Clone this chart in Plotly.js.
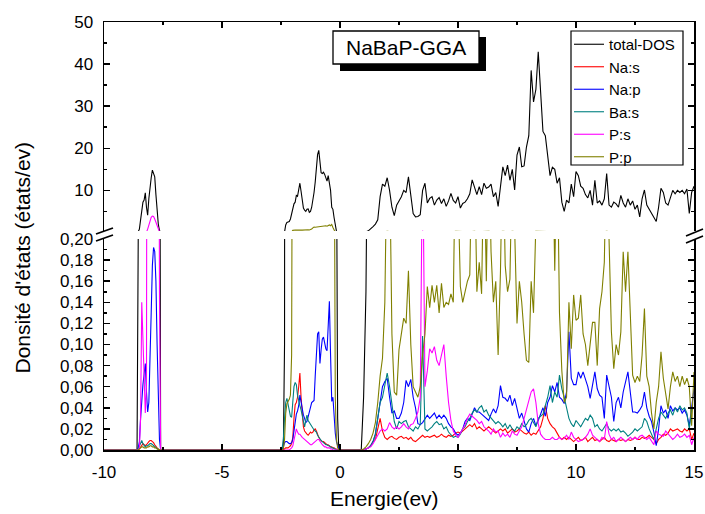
<!DOCTYPE html>
<html><head><meta charset="utf-8">
<script src="https://cdn.plot.ly/plotly-3.0.1.min.js"></script>
<style>html,body{margin:0;padding:0;background:#fff}#chart{width:705px;height:514px}</style>
</head><body><div id="chart"></div>
<script>
// ---------- energy grids (eV) ----------
function energyGrid(start, step, count) {
  const a = [];
  for (let i = 0; i < count; i++) a.push(Math.round((start + i * step) * 1000) / 1000);
  return a;
}
const energyStart = [-10];
const energyBand1 = energyGrid(-8.6, 0.05, 21);   // -8.60 .. -7.60
const energyBand2 = energyGrid(-2.5, 0.05, 52);   // -2.50 .. 0.05
const energyBand3 = energyGrid(0.8, 0.1, 143);    // 0.8 .. 15.0

const seriesNames = ['total-DOS', 'Na:s', 'Na:p', 'Ba:s', 'P:s', 'P:p'];

// ---------- band 1 (-8.6 .. -7.6) ----------
const totalDos1 = [0, 0.2, 0.8, 3.0, 5.3, 7.2, 7.7, 9.4, 6.0, 4.1, 8.0, 10.9, 13.0, 14.8, 14.2, 13.2, 9.0, 5.3, 2.0, 0.5, 0];
const naS1 = [0, 0, 0.001, 0.003, 0.005, 0.006, 0.005, 0.004, 0.005, 0.007, 0.008, 0.009, 0.009, 0.008, 0.007, 0.005, 0.003, 0.002, 0.001, 0, 0];
const naP1 = [0, 0.002, 0.008, 0.03, 0.05, 0.062, 0.072, 0.082, 0.055, 0.036, 0.045, 0.08, 0.13, 0.175, 0.192, 0.188, 0.16, 0.1, 0.04, 0.01, 0];
const baS1 = [0, 0.001, 0.004, 0.008, 0.009, 0.006, 0.004, 0.003, 0.004, 0.004, 0.005, 0.006, 0.006, 0.005, 0.004, 0.003, 0.002, 0.001, 0.0005, 0, 0];
const pS1 = [0, 0, 0.002, 0.03, 0.14, 0.1, 0.06, 0.035, 0.06, 0.8, 1.8, 2.8, 3.6, 3.9, 3.8, 3.2, 2.3, 1.4, 0.6, 0.15, 0];
const pP1 = [0, 0, 0.001, 0.002, 0.003, 0.003, 0.002, 0.002, 0.002, 0.003, 0.003, 0.004, 0.004, 0.003, 0.003, 0.002, 0.002, 0.001, 0.0005, 0, 0];

// ---------- band 2 (-2.5 .. 0.05) ----------
const totalDos2 = [0, 0, 0, 0.1, 1.8, 2.4, 2.5, 2.6, 3.2, 4.5, 6.0, 6.8, 7.2, 8.8, 8.6, 10.0, 11.7, 9.8, 7.0, 5.8,
  5.3, 5.0, 5.5, 5.6, 4.8, 5.0, 6.0, 7.5, 9.5, 12.0, 16.0, 18.5, 19.5, 16.0, 14.2, 14.0, 14.3, 13.8, 13.0, 12.2,
  13.5, 12.0, 10.0, 6.0, 5.5, 3.5, 1.2, 0.3, 0.03, 0, 0, 0];
const naS2 = [0, 0, 0, 0.001, 0.002, 0.002, 0.002, 0.003, 0.004, 0.006, 0.012, 0.03, 0.043, 0.045, 0.05, 0.06, 0.073, 0.05, 0.03, 0.022,
  0.018, 0.016, 0.015, 0.014, 0.016, 0.017, 0.016, 0.017, 0.019, 0.02, 0.018, 0.014, 0.012, 0.01, 0.009, 0.008, 0.008, 0.007, 0.006, 0.005,
  0.005, 0.004, 0.003, 0.003, 0.002, 0.002, 0.001, 0.001, 0, 0, 0, 0];
const naP2 = [0, 0.001, 0.003, 0.007, 0.008, 0.008, 0.007, 0.006, 0.006, 0.007, 0.01, 0.02, 0.028, 0.034, 0.037, 0.042, 0.052, 0.045, 0.036, 0.033,
  0.03, 0.026, 0.027, 0.032, 0.038, 0.042, 0.045, 0.046, 0.047, 0.07, 0.098, 0.11, 0.112, 0.082, 0.095, 0.105, 0.107, 0.1, 0.096, 0.094,
  0.115, 0.141, 0.09, 0.046, 0.05, 0.03, 0.016, 0.008, 0.003, 0.001, 0, 0];
const baS2 = [0, 0.002, 0.01, 0.03, 0.045, 0.049, 0.042, 0.037, 0.032, 0.031, 0.045, 0.06, 0.064, 0.062, 0.052, 0.046, 0.042, 0.038, 0.033, 0.025,
  0.022, 0.028, 0.033, 0.028, 0.026, 0.024, 0.022, 0.02, 0.019, 0.018, 0.017, 0.014, 0.012, 0.01, 0.009, 0.008, 0.007, 0.006, 0.005, 0.005,
  0.004, 0.004, 0.003, 0.002, 0.002, 0.001, 0.001, 0, 0, 0, 0, 0];
const pS2 = [0, 0, 0, 0, 0, 0, 0, 0, 0.001, 0.002, 0.004, 0.01, 0.017, 0.02, 0.017, 0.015, 0.015, 0.013, 0.012, 0.011,
  0.01, 0.009, 0.008, 0.007, 0.006, 0.005, 0.005, 0.006, 0.007, 0.008, 0.009, 0.01, 0.01, 0.008, 0.006, 0.005, 0.004, 0.003, 0.003, 0.002,
  0.002, 0.002, 0.001, 0.001, 0, 0, 0, 0, 0, 0, 0, 0];
const pP2 = [0, 0, 0.001, 0.01, 0.035, 0.044, 0.046, 0.048, 0.052, 0.09, 0.5, 0.6, 0.6, 0.55, 0.6, 0.55, 0.6, 0.6, 0.55, 0.6,
  0.6, 0.55, 0.6, 0.65, 0.6, 0.7, 0.8, 1.1, 1.3, 1.25, 1.3, 1.35, 1.3, 1.4, 1.5, 1.4, 1.6, 1.5, 1.6, 1.5,
  1.7, 1.8, 1.6, 1.9, 1.2, 0.35, 0.05, 0.01, 0.002, 0, 0, 0];

// ---------- band 3 (0.8 .. 15.0) ----------
const totalDos3 = [
  0, 0, 0.05, 0.15, 0.4, 0.8, 1.4, 2.0, 3.0, 8.5,
  11.5, 11.0, 13.0, 10.0, 6.0, 4.0, 6.5, 7.5, 8.5, 10.0,
  9.5, 13.2, 8.5, 4.5, 3.7, 3.8, 4.2, 10.0, 11.7, 7.0,
  8.1, 8.5, 6.5, 7.7, 8.3, 6.9, 8.0, 6.2, 7.5, 9.3,
  7.6, 7.0, 8.5, 5.8, 6.9, 7.2, 8.0, 9.2, 12.5, 10.5,
  9.0, 10.9, 9.0, 11.7, 10.5, 10.8, 11.5, 8.5, 9.5, 6.2,
  11.0, 15.6, 13.5, 16.0, 12.4, 15.0, 10.1, 18.4, 20.3, 15.6,
  15.8, 20.3, 23.0, 38.5, 31.0, 34.0, 42.9, 32.0, 24.0, 23.0,
  18.8, 13.5, 15.5, 15.0, 11.7, 13.0, 7.2, 5.0, 7.7, 7.0,
  11.5, 8.5, 14.5, 13.5, 11.0, 10.5, 9.0, 8.2, 10.0, 6.5,
  12.4, 7.0, 7.5, 6.5, 8.0, 14.0, 6.5, 6.0, 7.2, 6.8,
  6.0, 8.8, 7.0, 6.0, 8.0, 6.5, 7.5, 5.5, 6.5, 3.7,
  8.0, 10.1, 6.5, 5.5, 4.5, 3.5, 2.6, 6.0, 10.5, 9.5,
  7.0, 6.5, 8.5, 10.0, 9.2, 10.0, 9.5, 10.0, 9.2, 10.3,
  4.5, 9.5, 11.0];
const naS3 = [
  0, 0, 0, 0.001, 0.002, 0.004, 0.008, 0.01, 0.02, 0.03,
  0.018, 0.012, 0.01, 0.012, 0.013, 0.011, 0.01, 0.012, 0.013, 0.011,
  0.012, 0.01, 0.012, 0.009, 0.008, 0.01, 0.012, 0.014, 0.012, 0.013,
  0.012, 0.013, 0.014, 0.012, 0.013, 0.015, 0.013, 0.012, 0.014, 0.013,
  0.014, 0.016, 0.017, 0.016, 0.018, 0.02, 0.022, 0.024, 0.022, 0.025,
  0.02, 0.022, 0.02, 0.018, 0.02, 0.022, 0.02, 0.018, 0.016, 0.018,
  0.02, 0.018, 0.02, 0.016, 0.018, 0.02, 0.017, 0.018, 0.02, 0.018,
  0.016, 0.015, 0.017, 0.014, 0.016, 0.015, 0.018, 0.022, 0.03, 0.042,
  0.03, 0.025, 0.022, 0.02, 0.016, 0.012, 0.01, 0.012, 0.01, 0.012,
  0.01, 0.008, 0.01, 0.012, 0.009, 0.01, 0.012, 0.008, 0.01, 0.012,
  0.009, 0.01, 0.008, 0.01, 0.012, 0.009, 0.008, 0.01, 0.009, 0.008,
  0.01, 0.009, 0.01, 0.008, 0.01, 0.009, 0.01, 0.012, 0.01, 0.01,
  0.012, 0.011, 0.012, 0.014, 0.012, 0.01, 0.006, 0.01, 0.012, 0.015,
  0.014, 0.016, 0.02, 0.018, 0.019, 0.02, 0.018, 0.017, 0.02, 0.018,
  0.02, 0.01, 0.016];
const naP3 = [
  0, 0, 0, 0.001, 0.002, 0.004, 0.008, 0.015, 0.03, 0.045,
  0.06, 0.065, 0.068, 0.05, 0.035, 0.037, 0.03, 0.03, 0.035, 0.045,
  0.066, 0.06, 0.067, 0.05, 0.04, 0.025, 0.024, 0.026, 0.03, 0.033,
  0.03, 0.033, 0.035, 0.03, 0.033, 0.03, 0.033, 0.03, 0.025, 0.022,
  0.02, 0.016, 0.014, 0.016, 0.02, 0.027, 0.03, 0.028, 0.034, 0.04,
  0.036, 0.036, 0.034, 0.032, 0.03, 0.028, 0.034, 0.039, 0.035, 0.042,
  0.061, 0.05, 0.049, 0.046, 0.052, 0.042, 0.049, 0.04, 0.03, 0.035,
  0.028, 0.02, 0.017, 0.025, 0.03, 0.023, 0.028, 0.034, 0.04, 0.032,
  0.045, 0.05, 0.061, 0.055, 0.064, 0.05, 0.048, 0.044, 0.055, 0.112,
  0.068, 0.062, 0.062, 0.074, 0.068, 0.074, 0.066, 0.06, 0.049, 0.06,
  0.074, 0.058, 0.052, 0.05, 0.03, 0.071, 0.06, 0.05, 0.027, 0.045,
  0.05, 0.04, 0.055, 0.064, 0.074, 0.055, 0.036, 0.036, 0.035, 0.038,
  0.042, 0.055, 0.04, 0.032, 0.027, 0.017, 0.004, 0.02, 0.042, 0.035,
  0.038, 0.03, 0.042, 0.037, 0.04, 0.038, 0.04, 0.035, 0.038, 0.033,
  0.023, 0.04, 0.058];
const baS3 = [
  0, 0, 0, 0.001, 0.002, 0.004, 0.008, 0.015, 0.028, 0.045,
  0.05, 0.062, 0.073, 0.06, 0.042, 0.027, 0.02, 0.027, 0.025, 0.027,
  0.028, 0.022, 0.02, 0.018, 0.022, 0.02, 0.024, 0.108, 0.02, 0.018,
  0.02, 0.022, 0.025, 0.027, 0.024, 0.025, 0.02, 0.022, 0.017, 0.014,
  0.012, 0.013, 0.012, 0.015, 0.02, 0.022, 0.027, 0.03, 0.035, 0.038,
  0.036, 0.04, 0.042, 0.036, 0.038, 0.033, 0.03, 0.028, 0.025, 0.027,
  0.025, 0.022, 0.025, 0.02, 0.024, 0.02, 0.018, 0.022, 0.02, 0.025,
  0.022, 0.024, 0.028, 0.03, 0.026, 0.022, 0.03, 0.032, 0.034, 0.042,
  0.05, 0.061, 0.045, 0.055, 0.05, 0.071, 0.058, 0.05, 0.04, 0.03,
  0.025, 0.022, 0.028, 0.025, 0.022, 0.026, 0.03, 0.028, 0.033, 0.03,
  0.022, 0.024, 0.02, 0.018, 0.022, 0.025, 0.02, 0.018, 0.02, 0.018,
  0.02, 0.017, 0.018, 0.016, 0.013, 0.015, 0.017, 0.02, 0.018, 0.02,
  0.022, 0.03, 0.027, 0.02, 0.015, 0.01, 0.02, 0.03, 0.036, 0.033,
  0.03, 0.035, 0.038, 0.033, 0.04, 0.036, 0.042, 0.038, 0.04, 0.035,
  0.02, 0.038, 0.04];
const pS3 = [
  0, 0, 0, 0.001, 0.002, 0.003, 0.006, 0.01, 0.014, 0.018,
  0.02, 0.018, 0.02, 0.026, 0.022, 0.02, 0.022, 0.02, 0.022, 0.025,
  0.022, 0.02, 0.024, 0.025, 0.03, 0.036, 0.05, 0.3, 0.06, 0.075,
  0.096, 0.092, 0.098, 0.085, 0.08, 0.09, 0.1, 0.07, 0.045, 0.028,
  0.018, 0.014, 0.012, 0.016, 0.02, 0.024, 0.03, 0.034, 0.032, 0.03,
  0.028, 0.025, 0.027, 0.022, 0.02, 0.018, 0.015, 0.02, 0.017, 0.018,
  0.012, 0.016, 0.013, 0.015, 0.012, 0.018, 0.015, 0.014, 0.018, 0.022,
  0.03, 0.038, 0.045, 0.055, 0.058, 0.045, 0.025, 0.015, 0.012, 0.01,
  0.01, 0.01, 0.012, 0.01, 0.01, 0.012, 0.01, 0.011, 0.014, 0.01,
  0.017, 0.012, 0.01, 0.008, 0.009, 0.01, 0.012, 0.015, 0.02, 0.014,
  0.012, 0.01, 0.008, 0.012, 0.01, 0.027, 0.015, 0.01, 0.012, 0.008,
  0.01, 0.012, 0.01, 0.008, 0.01, 0.012, 0.01, 0.012, 0.01, 0.013,
  0.014, 0.012, 0.01, 0.012, 0.008, 0.005, 0.018, 0.015, 0.014, 0.013,
  0.018, 0.015, 0.013, 0.01, 0.012, 0.015, 0.012, 0.013, 0.015, 0.012,
  0.014, 0.005, 0.012];
const pP3 = [
  0, 0, 0.001, 0.003, 0.006, 0.01, 0.016, 0.026, 0.045, 0.07,
  0.087, 0.14, 0.3, 0.28, 0.11, 0.055, 0.052, 0.095, 0.11, 0.125,
  0.12, 0.17, 0.1, 0.06, 0.055, 0.05, 0.06, 0.09, 0.11, 0.155,
  0.135, 0.156, 0.14, 0.156, 0.13, 0.158, 0.135, 0.14, 0.138, 0.148,
  0.14, 0.3, 0.25, 0.155, 0.14, 0.15, 0.16, 0.166, 0.3, 0.28,
  0.15, 0.178, 0.148, 0.29, 0.16, 0.3, 0.188, 0.14, 0.16, 0.09,
  0.17, 0.3, 0.175, 0.15, 0.162, 0.28, 0.21, 0.12, 0.16, 0.14,
  0.11, 0.085, 0.083, 0.16, 0.13, 0.3, 0.3, 0.3, 0.3, 0.3,
  0.3, 0.25, 0.3, 0.17, 0.3, 0.13, 0.075, 0.045, 0.05, 0.14,
  0.096, 0.147, 0.123, 0.125, 0.147, 0.11, 0.1, 0.08, 0.1, 0.121,
  0.121, 0.08, 0.134, 0.15, 0.178, 0.3, 0.2, 0.112, 0.077, 0.1,
  0.09, 0.112, 0.188, 0.15, 0.188, 0.128, 0.071, 0.064, 0.07, 0.065,
  0.09, 0.134, 0.07, 0.06, 0.035, 0.02, 0.045, 0.06, 0.093, 0.068,
  0.055, 0.039, 0.06, 0.074, 0.065, 0.07, 0.06, 0.07, 0.062, 0.068,
  0.06, 0.023, 0.074];

const seriesBands = [
  [totalDos1, totalDos2, totalDos3],
  [naS1, naS2, naS3],
  [naP1, naP2, naP3],
  [baS1, baS2, baS3],
  [pS1, pS2, pS3],
  [pP1, pP2, pP3]
];

const xTickVals = [-10, -5, 0, 5, 10, 15];
const xTickText = ['-10', '-5', '0', '5', '10', '15'];

// ---------- styles ----------
const seriesColors = ['#000000', '#FF0000', '#0000FF', '#008080', '#FF00FF', '#808000'];

const energy = energyStart.concat(energyBand1, energyBand2, energyBand3);
const traces = [];
const upperTraces = [];
seriesNames.forEach((name, i) => {
  const b = seriesBands[i];
  const vals = [0].concat(b[0], b[1], b[2]);
  traces.push({x: energy, y: vals, xaxis: 'x', yaxis: 'y', type: 'scatter', mode: 'lines', name: name,
    line: {color: seriesColors[i], width: 1.1}, showlegend: true, hoverinfo: 'skip'});
  upperTraces.push({x: energy, y: vals, xaxis: 'x2', yaxis: 'y2', type: 'scatter', mode: 'lines', name: name,
    line: {color: seriesColors[i], width: 1.1}, showlegend: false, hoverinfo: 'skip'});
});

// pixel -> paper helpers for decorations
const PL = 104, PR = 694, PT = 22, PB = 450;
const px = v => (v - PL) / (PR - PL);
const py = v => (PB - v) / (PB - PT);

const axisCommon = {showline: true, linecolor: '#000', linewidth: 1.5, ticks: 'inside', ticklen: 6, tickwidth: 1.5,
  tickcolor: '#000', showgrid: false, zeroline: false};

const layout = {
  width: 705, height: 514,
  margin: {l: PL, r: 705 - PR, t: PT, b: 514 - PB},
  paper_bgcolor: '#ffffff', plot_bgcolor: 'rgba(0,0,0,0)',
  font: {family: 'Liberation Sans, Arial, sans-serif', size: 17, color: '#000'},
  separators: ', ',
  showlegend: true,
  legend: {x: px(569), y: py(28), xanchor: 'left', yanchor: 'top', bgcolor: 'rgba(0,0,0,0)', borderwidth: 0,
    font: {size: 15, color: '#000'}, tracegroupgap: 0, itemwidth: 30},
  xaxis: Object.assign({}, axisCommon, {domain: [0, 1], range: [-10, 15], anchor: 'y', tickmode: 'array',
    tickvals: xTickVals, ticktext: xTickText, ticklabelstandoff: 6,
    minor: {dtick: 2.5, tick0: 0, ticks: 'inside', ticklen: 3, tickwidth: 1.5, tickcolor: '#000', showgrid: false}}),
  xaxis2: Object.assign({}, axisCommon, {domain: [0, 1], range: [-10, 15], anchor: 'y2', side: 'top', showticklabels: false,
    tickmode: 'linear', tick0: 0, dtick: 5,
    minor: {dtick: 2.5, tick0: 0, ticks: 'inside', ticklen: 3, tickwidth: 1.5, tickcolor: '#000', showgrid: false}}),
  yaxis: Object.assign({}, axisCommon, {domain: [0, py(239)], range: [0, 0.2], anchor: 'x', mirror: 'ticks',
    tickmode: 'linear', tick0: 0, dtick: 0.02, tickformat: '.2f', ticklabelstandoff: 6,
    minor: {dtick: 0.01, tick0: 0, ticks: 'inside', ticklen: 3, tickwidth: 1.5, tickcolor: '#000', showgrid: false}}),
  yaxis2: Object.assign({}, axisCommon, {domain: [py(231), 1], range: [0.35, 50], anchor: 'x2', mirror: 'ticks',
    tickmode: 'linear', tick0: 0, dtick: 10, ticklabelstandoff: 6,
    minor: {dtick: 5, tick0: 0, ticks: 'inside', ticklen: 3, tickwidth: 1.5, tickcolor: '#000', showgrid: false}}),
  shapes: [
    // title box shadow + box
    {type: 'rect', xref: 'paper', yref: 'paper', x0: px(340), x1: px(486), y0: py(71), y1: py(37),
      fillcolor: '#000', line: {width: 0}},
    {type: 'rect', xref: 'paper', yref: 'paper', x0: px(333), x1: px(479), y0: py(64), y1: py(31),
      fillcolor: '#fff', line: {color: '#000', width: 1.3}},
    // legend frame
    {type: 'rect', xref: 'paper', yref: 'paper', x0: px(571), x1: px(683), y0: py(165), y1: py(31),
      fillcolor: '#fff', line: {color: '#000', width: 1.2}},
    // axis break marks
    {type: 'line', xref: 'paper', yref: 'paper', x0: px(96), y0: py(234), x1: px(113), y1: py(228), line: {color: '#000', width: 1.8}},
    {type: 'line', xref: 'paper', yref: 'paper', x0: px(96), y0: py(241), x1: px(113), y1: py(235), line: {color: '#000', width: 1.8}},
    {type: 'line', xref: 'paper', yref: 'paper', x0: px(686), y0: py(236), x1: px(703), y1: py(229), line: {color: '#000', width: 1.8}},
    {type: 'line', xref: 'paper', yref: 'paper', x0: px(686), y0: py(243), x1: px(703), y1: py(236), line: {color: '#000', width: 1.8}}
  ],
  annotations: [
    {text: 'NaBaP-GGA', xref: 'paper', yref: 'paper', x: px(406), y: py(47.5), showarrow: false,
      xanchor: 'center', yanchor: 'middle', font: {size: 21}},
    {text: "Donsité d'états (états/ev)", xref: 'paper', yref: 'paper', x: px(22), y: py(257.5), showarrow: false,
      textangle: -90, xanchor: 'center', yanchor: 'middle', font: {size: 21}},
    {text: 'Energie(ev)', xref: 'paper', yref: 'paper', x: px(384.5), y: py(498), showarrow: false,
      xanchor: 'center', yanchor: 'middle', font: {size: 21}}
  ]
};

Plotly.newPlot('chart', traces.concat(upperTraces), layout, {staticPlot: true, displayModeBar: false});
</script>
</body></html>
